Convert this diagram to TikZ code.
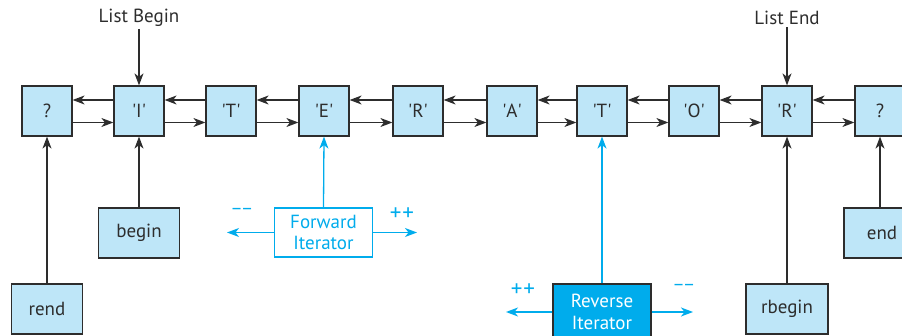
\documentclass[tikz,border=0pt]{standalone}
\usepackage{fontspec}
\setmainfont{PT Sans}
\usetikzlibrary{arrows.meta}
\definecolor{cellfill}{RGB}{190,230,248}
\definecolor{iterblue}{RGB}{0,172,236}
\definecolor{edgegray}{RGB}{45,45,45}
\newcommand{\sq}[1]{\textquotesingle#1\textquotesingle}
\begin{document}
\begin{tikzpicture}[x=1pt,y=-1pt,
  every node/.style={font=\fontsize{19}{21.5}\selectfont},
  cell/.style={draw=edgegray, line width=1.2pt, fill=cellfill,
    minimum width=50pt, minimum height=50pt, inner sep=0pt, text=edgegray},
  ptr/.style={draw=edgegray, line width=1.2pt, fill=cellfill,
    minimum width=81pt, minimum height=50pt, inner sep=0pt, text=edgegray},
  tip/.style={-{Stealth[length=12pt,width=9pt,inset=3.5pt]}},
  link/.style={draw=edgegray, line width=1.2pt, tip},
  cyanlink/.style={draw=iterblue, line width=1.3pt, tip},
  iterbox/.style={line width=1.3pt, minimum width=98pt, inner sep=0pt, align=center},
  oplabel/.style={text=iterblue, font=\fontsize{19}{21}\selectfont},
  inclabel/.style={text=iterblue, font=\fontsize{23}{25}\selectfont},
  caption/.style={text=edgegray, inner sep=2pt}
]
\useasboundingbox (0,0) rectangle (902,336);
\clip (0,0) rectangle (902,336);

% list cells
\node[cell] (c0) at (47,111)  {?};
\node[cell] (c1) at (139,111) {\sq{I}};
\node[cell] (c2) at (231,111) {\sq{T}};
\node[cell] (c3) at (324,111) {\sq{E}};
\node[cell] (c4) at (418,111) {\sq{R}};
\node[cell] (c5) at (512,111) {\sq{A}};
\node[cell] (c6) at (602,111) {\sq{T}};
\node[cell] (c7) at (694,111) {\sq{O}};
\node[cell] (c8) at (787,111) {\sq{R}};
\node[cell] (c9) at (880,111) {?};

% doubly linked pointers
\foreach \a/\b in {c0/c1,c1/c2,c2/c3,c3/c4,c4/c5,c5/c6,c6/c7,c7/c8,c8/c9} {
  \draw[link] ([yshift=11pt]\b.west) -- ([yshift=11pt]\a.east);
  \draw[link] ([yshift=-11.5pt]\a.east) -- ([yshift=-11.5pt]\b.west);
}

% list ends
\node[caption] (lb) at (139,18) {List Begin};
\node[caption] (le) at (787,18) {List End};
\draw[link] (lb.south) -- (c1.north);
\draw[link] (le.south) -- (c8.north);

% iterator positions
\node[ptr] (begin)  at (139,233) {begin};
\node[ptr, minimum width=76pt] (endp) at (882,233) {end};
\node[ptr, minimum width=71pt] (rend) at (47,309) {rend};
\node[ptr, minimum width=82pt] (rbegin) at (787,309) {rbegin};
\draw[link] (begin.north) -- (c1.south);
\draw[link] (endp.north -| c9.south) -- (c9.south);
\draw[link] (rend.north) -- (c0.south);
\draw[link] (rbegin.north) -- (c8.south);

% forward iterator
\node[iterbox, draw=iterblue, fill=white, text=iterblue, minimum height=49pt]
  (fwd) at (323.5,232.5) {Forward\\Iterator};
\coordinate (fwdL) at (227,232.5);
\coordinate (fwdR) at (417,232.5);
\draw[cyanlink] (fwd.north) -- (c3.south);
\draw[cyanlink] (fwd.west) -- (fwdL);
\draw[cyanlink] (fwd.east) -- (fwdR);
\node[oplabel] (fdec) at (242,212) {−\kern1pt−};
\node[inclabel] (finc) at (402,214) {+\kern1pt+};

% reverse iterator
\node[iterbox, draw=edgegray, fill=iterblue, text=white, minimum height=56pt]
  (rev) at (602,312) {Reverse\\Iterator};
\coordinate (revL) at (506,312);
\coordinate (revR) at (693,312);
\draw[cyanlink] (rev.north) -- (c6.south);
\draw[cyanlink] (rev.west) -- (revL);
\draw[cyanlink] (rev.east) -- (revR);
\node[inclabel] (rinc) at (523,290) {+\kern1pt+};
\node[oplabel] (rdec) at (684,288) {−\kern1pt−};
\end{tikzpicture}
\end{document}
